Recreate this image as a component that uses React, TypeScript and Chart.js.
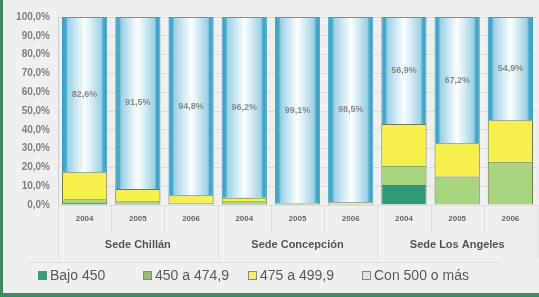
import React, { useEffect, useRef } from "react";
import { Chart, registerables } from "chart.js";

Chart.register(...registerables);

const years = ["2004", "2005", "2006", "2004", "2005", "2006", "2004", "2005", "2006"];
const groups = ["Sede Chillán", "Sede Concepción", "Sede Los Angeles"];
const yTicks = [0, 10, 20, 30, 40, 50, 60, 70, 80, 90, 100];

const bajo450 = [1.0, 0.5, 0.3, 0.5, 0.1, 0.2, 10.6, 0, 0];
const de450a474 = [2.0, 1.5, 0.9, 1.5, 0.3, 0.5, 10.3, 15.1, 23.0];
const de475a499 = [14.4, 6.5, 4.0, 1.8, 0.5, 0.8, 22.2, 17.7, 22.1];
const con500 = [82.6, 91.5, 94.8, 96.2, 99.1, 98.5, 56.9, 67.2, 54.9];

const seriesNames = ["Bajo 450", "450 a 474,9", "475 a 499,9", "Con 500 o más"];
const seriesColors = ["#2f9a78", "#a9d47e", "#f5f04c", "#8fcbe0"];
const legendSwatch = ["#3a9a7c", "#9dbb72", "#f4ef70", "#d8e8ec"];

const FONT = "'Liberation Sans', Arial, sans-serif";

export default function App() {
  const ref = useRef<HTMLCanvasElement | null>(null);

  useEffect(() => {
    if (!ref.current) return;

    const blueGradient = (ctx: any) => {
      const chart = ctx.chart;
      const xs = chart.scales?.x;
      if (!xs || !chart.chartArea) return "#8fcbe0";
      const c = xs.getPixelForValue(ctx.dataIndex);
      const hw = (xs.width / years.length) * 0.85 / 2;
      const g = chart.ctx.createLinearGradient(c - hw, 0, c + hw, 0);
      g.addColorStop(0, "#3da1c4");
      g.addColorStop(0.09, "#47a9cb");
      g.addColorStop(0.13, "#9bd0e4");
      g.addColorStop(0.3, "#c9e6f1");
      g.addColorStop(0.5, "#fbfdfe");
      g.addColorStop(0.7, "#c9e6f1");
      g.addColorStop(0.87, "#9bd0e4");
      g.addColorStop(0.91, "#47a9cb");
      g.addColorStop(1, "#3da1c4");
      return g;
    };

    const framePlugin = {
      id: "frame",
      beforeDraw(chart: any) {
        const { ctx, width, height } = chart;
        ctx.save();
        ctx.fillStyle = "#efefef";
        ctx.fillRect(0, 0, width, height);
        ctx.restore();
      },
      afterDraw(chart: any) {
        const { ctx, width, height, chartArea } = chart;
        const xs = chart.scales.x;
        ctx.save();
        const step = xs.width / years.length;
        ctx.strokeStyle = "#dcdcdc";
        ctx.lineWidth = 1;
        for (let i = 0; i <= years.length; i++) {
          const x = Math.round(xs.left + i * step) + 0.5;
          const isGroup = i % 3 === 0;
          ctx.beginPath();
          ctx.moveTo(x, chartArea.bottom);
          ctx.lineTo(x, isGroup ? 258 : 232);
          ctx.stroke();
        }
        ctx.fillStyle = "#555";
        ctx.font = "bold 11px " + FONT;
        ctx.textAlign = "center";
        ctx.textBaseline = "middle";
        groups.forEach((g, gi) => {
          const c = xs.getPixelForValue(gi * 3 + 1);
          ctx.fillText(g, c, 245);
        });
        ctx.strokeStyle = "#dedede";
        ctx.beginPath();
        ctx.moveTo(28, 262.5);
        ctx.lineTo(500, 262.5);
        ctx.stroke();
        const lx = [38, 143, 248, 362];
        ctx.font = "14px " + FONT;
        ctx.textAlign = "left";
        seriesNames.forEach((n, i) => {
          ctx.fillStyle = legendSwatch[i];
          ctx.fillRect(lx[i], 271, 9, 9);
          ctx.strokeStyle = i === 0 ? "#3a9a7c" : "#8a8a70";
          ctx.lineWidth = 1;
          ctx.strokeRect(lx[i] + 0.5, 271.5, 8, 8);
          ctx.fillStyle = "#5a5a5a";
          ctx.fillText(n, lx[i] + 12, 276);
        });
        ctx.fillStyle = "#3f8a5f";
        ctx.fillRect(0, 0, 3, height);
        ctx.fillRect(0, height - 4, width, 4);
        ctx.restore();
      },
      afterDatasetsDraw(chart: any) {
        const meta = chart.getDatasetMeta(3);
        const { ctx } = chart;
        ctx.save();
        ctx.fillStyle = "#8a8a8a";
        ctx.font = "bold 9px " + FONT;
        ctx.textAlign = "center";
        ctx.textBaseline = "middle";
        meta.data.forEach((el: any, i: number) => {
          const v = con500[i];
          ctx.fillText(v.toFixed(1).replace(".", ",") + "%", el.x, (el.y + el.base) / 2);
        });
        ctx.restore();
      },
    };

    const smallBorder = "#6f7a50";

    const chart = new Chart(ref.current, {
      type: "bar",
      data: {
        labels: years,
        datasets: [
          { label: seriesNames[0], data: bajo450, backgroundColor: seriesColors[0], borderColor: smallBorder, borderWidth: 1 },
          { label: seriesNames[1], data: de450a474, backgroundColor: seriesColors[1], borderColor: smallBorder, borderWidth: 1 },
          { label: seriesNames[2], data: de475a499, backgroundColor: seriesColors[2], borderColor: smallBorder, borderWidth: 1 },
          { label: seriesNames[3], data: con500, backgroundColor: blueGradient as any, borderColor: "#3da1c4", borderWidth: 1 },
        ],
      },
      options: {
        animation: false,
        responsive: false,
        maintainAspectRatio: false,
        layout: { padding: { top: 17, right: 2, left: 0, bottom: 0 } },
        datasets: { bar: { barPercentage: 0.85, categoryPercentage: 1 } },
        plugins: { legend: { display: false }, tooltip: { enabled: false } },
        scales: {
          x: {
            stacked: true,
            grid: { display: false, drawTicks: false },
            border: { display: false },
            ticks: { color: "#666", font: { family: FONT, size: 8, weight: "bold" }, padding: 9, maxRotation: 0 },
            afterFit: (s: any) => { s.height = 92; },
          },
          y: {
            stacked: true,
            min: 0,
            max: 100,
            afterBuildTicks: (s: any) => { s.ticks = yTicks.map((v) => ({ value: v })); },
            grid: { color: "#dddddd", drawTicks: false },
            border: { display: true, color: "#cfcfcf" },
            ticks: {
              color: "#808080",
              font: { family: FONT, size: 10, weight: "bold" },
              padding: 8,
              callback: (v: any) => Number(v).toFixed(1).replace(".", ",") + "%",
            },
            afterFit: (s: any) => { s.width = 58; },
          },
        },
      },
      plugins: [framePlugin],
    });
    return () => chart.destroy();
  }, []);

  return (
    <div style={{ position: "fixed", left: 0, top: 0, width: 539, height: 297 }}>
      <canvas ref={ref} width={539} height={297} style={{ display: "block", width: 539, height: 297 }} />
    </div>
  );
}
